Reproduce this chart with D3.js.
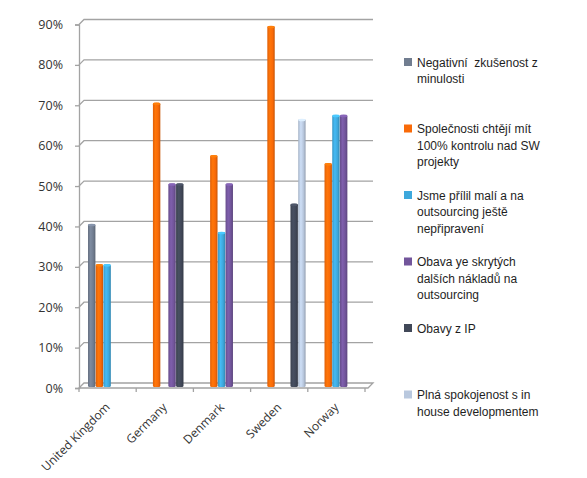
<!DOCTYPE html>
<html>
<head>
<meta charset="utf-8">
<script src="https://cdn.jsdelivr.net/npm/d3@7/dist/d3.min.js"></script>
<style>
  html, body { margin: 0; padding: 0; background: #fff; }
  svg { display: block; }
</style>
</head>
<body>
<svg id="chart" width="587" height="478"></svg>
<script>
// ---- data ----
const categories = ["United Kingdom", "Germany", "Denmark", "Sweden", "Norway"];
const seriesNames = [
  "Negativní  zkušenost z minulosti",
  "Společnosti chtějí mít 100% kontrolu nad SW projekty",
  "Jsme přílil malí a na outsourcing ještě nepřipravení",
  "Obava ye skrytých dalších nákladů na outsourcing",
  "Obavy z IP",
  "Plná spokojenost s in house developmentem"
];
const legendLines = [
  ["Negativní  zkušenost z", "minulosti"],
  ["Společnosti chtějí mít", "100% kontrolu nad SW", "projekty"],
  ["Jsme přílil malí a na", "outsourcing ještě", "nepřipravení"],
  ["Obava ye skrytých", "dalších nákladů na", "outsourcing"],
  ["Obavy z IP"],
  ["Plná spokojenost s in", "house developmentem"]
];
const negativni   = [0.40, null, null, null, null];
const kontrola    = [0.30, 0.70, 0.57, 0.89, 0.55];
const maliFirmy   = [0.30, null, 0.38, null, 0.67];
const skryteNakl  = [null, 0.50, 0.50, null, 0.67];
const obavyIP     = [null, 0.50, null, 0.45, null];
const spokojenost = [null, null, null, 0.66, null];
const seriesValues = [negativni, kontrola, maliFirmy, skryteNakl, obavyIP, spokojenost];
const seriesColors = ["#717d90", "#f96a08", "#3ea8dc", "#72559b", "#414858", "#b9c8de"];
const yTicks = [0, 0.1, 0.2, 0.3, 0.4, 0.5, 0.6, 0.7, 0.8, 0.9];

// ---- layout ----
const svg = d3.select("#chart");
const depth = 5;           // 3D back-wall offset
const x0 = d3.scaleBand().domain(categories).range([79, 365]);
const x1 = d3.scaleBand().domain(d3.range(seriesNames.length)).range([9, 55]).paddingInner(0.04);
const y = d3.scaleLinear().domain([0, 0.9]).range([388, 24.5]);

// gradients for cylinders
const defs = svg.append("defs");
seriesColors.forEach((c, i) => {
  const g = defs.append("linearGradient").attr("id", "g" + i).attr("x1", "0").attr("x2", "1").attr("y1", "0").attr("y2", "0");
  const base = d3.color(c);
  g.append("stop").attr("offset", "0%").attr("stop-color", base.darker(0.3));
  g.append("stop").attr("offset", "35%").attr("stop-color", base.brighter(0.3));
  g.append("stop").attr("offset", "70%").attr("stop-color", base);
  g.append("stop").attr("offset", "100%").attr("stop-color", base.darker(0.6));
});

// gridlines (back wall) with slanted connectors to axis
const grid = svg.append("g").attr("stroke", "#a3a3a3").attr("stroke-width", 1.3).attr("fill", "none");
yTicks.forEach(t => {
  if (t === 0) return;
  grid.append("path").attr("d",
    `M${x0.range()[0]},${y(t)} L${x0.range()[0] + depth},${y(t) - depth} L${x0.range()[1] + 8},${y(t) - depth}`);
});
// floor
grid.append("path").attr("d",
  `M${x0.range()[0]},${y(0)} L${x0.range()[0] + depth},${y(0) - depth} L${x0.range()[1] + 8},${y(0) - depth} L${x0.range()[1] + 3},${y(0)} Z`);

// y axis
const yAxis = svg.append("g").attr("transform", `translate(${x0.range()[0]},0)`)
  .call(d3.axisLeft(y).tickValues(yTicks).tickFormat(d3.format(".0%")).tickSize(4).tickPadding(12));
yAxis.select(".domain").attr("stroke", "#a3a3a3").attr("stroke-width", 1.3);
yAxis.selectAll(".tick line").attr("stroke", "#a3a3a3").attr("stroke-width", 1.3);
yAxis.selectAll("text").attr("fill", "#333").style("font-family", "'Open Sans', sans-serif").style("font-size", "12.5px");

// x axis
const xAxis = svg.append("g").attr("transform", `translate(0,${y(0)})`)
  .call(d3.axisBottom(x0).tickSize(0).tickFormat(""));
xAxis.select(".domain").remove();
const bounds = [...categories.map(c => x0(c)), x0.range()[1]];
xAxis.selectAll(".bnd").data(bounds).join("line").attr("class", "bnd")
  .attr("x1", d => d).attr("x2", d => d).attr("y1", 0).attr("y2", 4)
  .attr("stroke", "#a3a3a3").attr("stroke-width", 1.3);
xAxis.selectAll(".lbl").data(categories).join("text").attr("class", "lbl")
  .attr("transform", d => `translate(${x0(d) + x0.bandwidth() / 2 + 3},${20}) rotate(-45)`)
  .attr("text-anchor", "end")
  .attr("fill", "#333")
  .style("font-family", "'Open Sans', sans-serif").style("font-size", "12px")
  .text(d => d);

// bars (cylinders)
const lift = 2.5; // 3D depth lift of bar tops
const bars = svg.append("g");
seriesValues.forEach((vals, si) => {
  const pts = categories.map((c, ci) => ({ c, v: vals[ci] })).filter(d => d.v != null);
  const w = x1.bandwidth();
  const g = bars.append("g");
  g.selectAll("rect").data(pts).join("rect")
    .attr("x", d => x0(d.c) + x1(si))
    .attr("y", d => y(d.v) - lift)
    .attr("width", w)
    .attr("height", d => y(0) - 1 - y(d.v) + lift)
    .attr("rx", 1.5)
    .attr("fill", `url(#g${si})`);
  g.selectAll("ellipse").data(pts).join("ellipse")
    .attr("cx", d => x0(d.c) + x1(si) + w / 2)
    .attr("cy", d => y(d.v) - lift + 1)
    .attr("rx", w / 2)
    .attr("ry", 1.3)
    .attr("fill", d3.color(seriesColors[si]).brighter(0.5));
});

// legend
const legend = svg.append("g").attr("transform", "translate(404,0)");
const legendY0 = 62.5, legendStep = 66.5, lineH = 16.6;
legendLines.forEach((lines, i) => {
  const gy = legendY0 + i * legendStep;
  legend.append("rect").attr("x", 0).attr("y", gy - 4.5).attr("width", 8).attr("height", 8)
    .attr("fill", seriesColors[i]);
  const t = legend.append("text").attr("x", 13).attr("y", gy + 4)
    .attr("fill", "#1e1e1e")
    .style("font-family", "'Liberation Sans', Arial, sans-serif").style("font-size", "12px")
    .style("white-space", "pre");
  lines.forEach((l, li) => {
    t.append("tspan").attr("x", 13).attr("dy", li === 0 ? 0 : lineH).text(l);
  });
});
</script>
</body>
</html>
